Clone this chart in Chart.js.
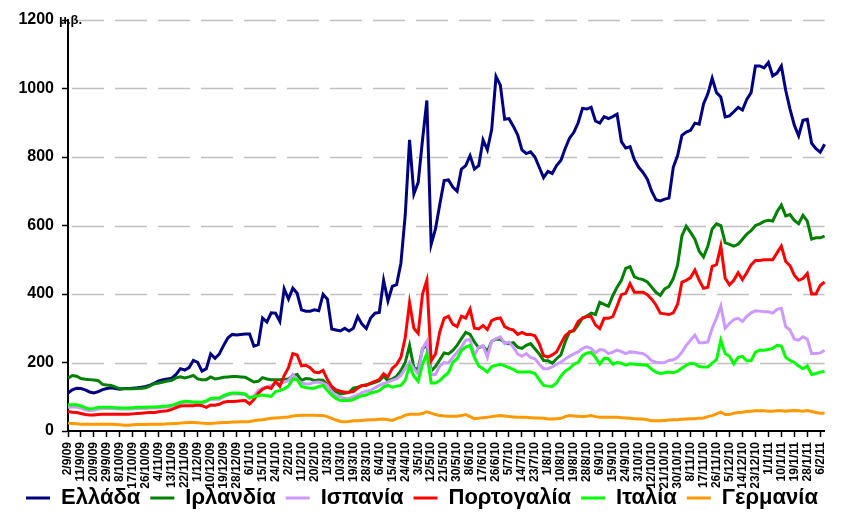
<!DOCTYPE html>
<html>
<head>
<meta charset="utf-8">
<script src="https://cdn.jsdelivr.net/npm/chart.js@4.4.0/dist/chart.umd.min.js"></script>
<style>
  html, body { margin: 0; padding: 0; background: #ffffff; }
  canvas { display: block; }
</style>
</head>
<body>
<canvas id="c" width="844" height="519"></canvas>
<script>
// Tick labels every 9 days (2/9/09 .. 6/2/11)
const tickLabels = ['2/9/09','11/9/09','20/9/09','29/9/09','8/10/09','17/10/09','26/10/09','4/11/09','13/11/09','22/11/09','1/12/09','10/12/09','19/12/09','28/12/09','6/1/10','15/1/10','24/1/10','2/2/10','11/2/10','20/2/10','1/3/10','10/3/10','19/3/10','28/3/10','6/4/10','15/4/10','24/4/10','3/5/10','12/5/10','21/5/10','30/5/10','8/6/10','17/6/10','26/6/10','5/7/10','14/7/10','23/7/10','1/8/10','10/8/10','19/8/10','28/8/10','6/9/10','15/9/10','24/9/10','3/10/10','12/10/10','21/10/10','30/10/10','8/11/10','17/11/10','26/11/10','5/12/10','14/12/10','23/12/10','1/1/11','10/1/11','19/1/11','28/1/11','6/2/11'];

// Series values (basis points), one reading every 3 days from 2/9/09
const greece = [
111,120,125,124,120,114,111,115,121,124,
126,124,122,124,124,125,126,128,130,134,
140,146,150,152,154,165,182,178,185,206,
200,175,182,225,212,225,250,272,282,280,
282,283,283,248,252,330,318,345,344,320,
415,385,417,402,354,350,350,354,351,399,
385,298,295,292,300,292,300,334,312,299,
330,344,346,440,380,422,427,490,630,850,
692,726,850,965,545,590,662,731,733,712,
700,765,775,804,765,775,850,821,880,1035,
1010,910,912,890,865,821,810,815,800,770,
740,758,752,775,790,825,855,872,900,942,
940,945,905,899,918,912,918,925,845,826,
830,792,770,755,735,700,675,672,677,680,
770,804,863,873,878,899,896,955,985,1030,
988,975,917,920,932,945,937,968,988,1066,
1066,1060,1076,1037,1045,1066,995,940,893,862,
907,910,840,824,814,837];

const ireland = [
154,162,160,153,151,150,149,147,136,134,
133,128,123,123,123,123,124,125,126,132,
138,140,143,146,148,155,158,155,158,162,
152,150,150,158,152,154,157,158,159,159,
158,157,150,143,145,156,152,150,150,150,
151,152,162,165,148,153,152,147,149,148,
135,123,115,108,110,113,125,128,132,135,
138,142,147,160,147,152,160,177,200,250,
185,180,241,250,175,188,208,228,225,235,
250,270,288,282,260,243,248,232,262,268,
268,258,255,258,245,241,250,255,240,225,
206,205,198,211,222,260,290,292,310,330,
335,344,340,376,370,364,395,420,440,475,
480,450,445,442,435,420,405,396,415,422,
445,485,570,598,580,560,525,508,540,590,
605,600,550,545,540,545,560,575,585,600,
605,612,615,613,640,660,628,632,615,605,
630,613,560,564,564,569];

const spain = [
69,70,70,67,62,59,61,64,66,66,
66,65,64,64,64,65,66,66,66,67,
67,68,69,70,72,76,81,84,84,83,
83,82,86,92,93,93,100,105,108,108,
107,106,95,103,118,125,128,133,138,138,
143,147,165,150,140,137,138,142,143,140,
133,115,103,99,96,94,100,105,112,116,
118,126,133,138,143,148,152,162,182,201,
182,167,241,262,165,165,190,200,198,215,
230,245,265,268,220,245,250,216,262,270,
275,255,260,245,225,218,226,215,211,195,
182,182,187,195,201,210,218,225,231,241,
246,241,228,238,236,226,230,236,232,226,
231,230,228,226,218,205,201,199,200,206,
208,215,230,250,265,280,258,258,260,300,
330,365,300,314,325,329,320,335,345,351,
350,348,348,344,355,358,305,295,268,265,
275,268,226,226,228,236];

const portugal = [
57,55,54,51,48,47,47,48,49,49,
49,49,49,49,49,50,51,52,53,54,
54,56,58,59,63,68,73,74,74,74,
76,74,69,76,75,78,84,86,86,87,
88,89,79,92,110,122,128,124,145,130,
162,185,226,222,190,192,185,172,170,177,
150,130,120,116,113,113,115,125,133,133,
140,145,150,167,158,183,194,215,272,375,
300,285,400,440,205,225,290,329,335,312,
305,335,330,356,300,298,308,296,322,328,
330,305,298,295,282,288,282,282,278,255,
220,216,222,231,255,278,288,295,320,329,
334,334,310,299,329,329,334,365,398,402,
430,405,405,405,398,385,368,344,342,340,
345,370,435,440,448,470,440,417,420,481,
486,540,446,427,440,462,442,462,485,498,
498,500,500,500,520,540,495,483,455,440,
445,460,400,400,425,435];

const italy = [
77,77,77,73,68,64,66,69,69,69,
69,68,67,67,67,68,69,69,69,70,
70,71,72,73,75,79,84,87,86,85,
85,84,88,95,96,96,103,108,111,111,
110,108,97,100,103,105,103,101,115,118,
123,131,152,150,130,127,125,125,130,133,
118,105,95,89,89,89,92,98,103,105,
111,114,118,128,133,128,131,133,148,190,
160,145,195,226,140,140,147,160,170,200,
211,235,245,250,215,190,182,172,188,192,
195,190,185,180,172,172,172,172,168,150,
133,131,130,140,160,175,182,195,200,220,
228,229,215,195,212,211,195,200,198,192,
196,195,194,193,192,180,172,168,170,172,
170,175,183,192,198,196,188,187,187,198,
208,265,226,218,196,215,218,205,205,230,
236,236,238,241,250,248,215,206,200,190,
182,190,165,168,172,174];

const germany = [
23,22,21,20,20,20,20,20,20,20,
20,19,18,17,17,18,19,19,19,20,
20,20,20,21,21,22,23,24,25,25,
24,23,22,22,23,24,25,25,26,26,
27,27,28,30,32,33,35,37,38,39,
40,41,44,45,46,46,46,46,45,45,
42,37,32,28,27,28,30,30,31,32,
33,33,34,35,33,31,36,40,46,49,
49,49,51,56,52,48,45,44,43,43,
43,45,48,42,36,37,39,40,42,44,
45,44,42,41,40,40,40,39,38,38,
37,35,35,36,37,42,45,44,43,42,
43,45,42,40,40,40,40,40,39,38,
37,36,35,35,33,30,30,30,31,32,
33,33,34,35,36,36,37,38,42,45,
50,55,48,48,52,54,55,57,58,59,
59,59,58,58,59,59,58,59,60,59,
58,60,57,54,52,52];

const seriesNames = ['Ελλάδα','Ιρλανδία','Ισπανία','Πορτογαλία','Ιταλία','Γερμανία'];
const seriesColors = ['#000080','#008000','#CC99FF','#FF0000','#00FF00','#FF9900'];
const seriesData = [greece, ireland, spain, portugal, italy, germany];

// categories: one every 3 days starting 2 Sep 2009
const startDate = new Date(2009, 8, 2);
const categories = greece.map((_, i) => {
  const d = new Date(startDate.getTime());
  d.setDate(d.getDate() + 3 * i);
  return d.getDate() + '/' + (d.getMonth() + 1) + '/' + String(d.getFullYear()).slice(2);
});

const FONT = "'Liberation Sans', Arial, sans-serif";

// dashed horizontal grid lines at the y-axis ticks
const dashedGrid = {
  id: 'dashedGrid',
  beforeDatasetsDraw(chart) {
    const { ctx, chartArea } = chart;
    const y = chart.scales.y;
    ctx.save();
    ctx.strokeStyle = '#C0C0C0';
    ctx.lineWidth = 1.5;
    ctx.setLineDash([32, 11]);
    ctx.lineDashOffset = 39;
    y.ticks.forEach(t => {
      if (t.value === 0) return;
      const py = Math.round(y.getPixelForValue(t.value)) + 0.5;
      ctx.beginPath();
      ctx.moveTo(chartArea.left, py);
      ctx.lineTo(chartArea.right, py);
      ctx.stroke();
    });
    ctx.restore();
  }
};

// let the long rotated date labels extend below the x-axis box (no clipping)
const labelRoom = {
  id: 'labelRoom',
  afterLayout(chart) {
    chart.scales.x.bottom = chart.height;
  }
};

const unitPlugin = {
  id: 'unitLabel',
  afterDraw(chart) {
    const ctx = chart.ctx;
    const y = chart.scales.y;
    ctx.save();
    ctx.font = 'bold 13px ' + FONT;
    ctx.fillStyle = '#000';
    ctx.textAlign = 'left';
    ctx.textBaseline = 'middle';
    ctx.fillText('μ.β.', 59, y.getPixelForValue(1200));
    ctx.restore();
  }
};

const n = seriesData.length;
new Chart(document.getElementById('c'), {
  type: 'line',
  data: {
    labels: categories,
    datasets: seriesData.map((d, k) => ({
      label: seriesNames[k],
      data: d,
      borderColor: seriesColors[k],
      backgroundColor: seriesColors[k],
      borderWidth: 3,
      pointRadius: 0,
      tension: 0,
      fill: false,
      yAxisID: 'y',
      order: n - k
    }))
  },
  options: {
    responsive: false,
    animation: false,
    devicePixelRatio: 1,
    layout: { padding: { top: 20, right: 0, left: 0, bottom: 0 } },
    plugins: {
      tooltip: { enabled: false },
      legend: {
        position: 'bottom',
        labels: {
          font: { family: FONT, size: 22, weight: 'bold' },
          color: '#000',
          boxWidth: 24,
          boxHeight: 3,
          padding: 10,
          sort: (a, b) => a.datasetIndex - b.datasetIndex,
          generateLabels(chart) {
            const items = Chart.defaults.plugins.legend.labels.generateLabels(chart);
            items.forEach(it => { it.fillStyle = it.strokeStyle; it.lineWidth = 0; });
            return items;
          }
        }
      }
    },
    scales: {
      x: {
        type: 'category',
        offset: false,
        afterFit(scale) { scale.height = 46; },
        grid: {
          drawOnChartArea: false,
          drawTicks: true,
          tickLength: 6,
          tickWidth: 1.5,
          tickColor: (ctx) => (ctx.index % 3 === 0 ? '#000' : 'rgba(0,0,0,0)')
        },
        border: { color: '#000', width: 2 },
        ticks: {
          autoSkip: false,
          minRotation: 90,
          maxRotation: 90,
          padding: 5,
          color: '#000',
          font: { family: FONT, size: 12, weight: 'bold' },
          callback: (v, i) => (i % 3 === 0 ? tickLabels[i / 3] : '')
        }
      },
      y: {
        min: 0,
        max: 1200,
        afterFit(scale) { scale.width = 68; },
        grid: {
          drawOnChartArea: false,
          drawTicks: true,
          tickColor: '#000',
          tickLength: 6,
          tickWidth: 1.5
        },
        border: { color: '#000', width: 2 },
        ticks: {
          stepSize: 200,
          padding: 8,
          color: '#000',
          font: { family: FONT, size: 16, weight: 'bold' },
          callback: (v) => String(v)
        }
      },
      yRight: {
        position: 'right',
        min: 0,
        max: 1,
        afterFit(scale) { scale.width = 19; },
        grid: { display: false, drawTicks: false },
        border: { display: false },
        ticks: { display: false }
      }
    }
  },
  plugins: [dashedGrid, labelRoom, unitPlugin]
});
</script>
</body>
</html>
